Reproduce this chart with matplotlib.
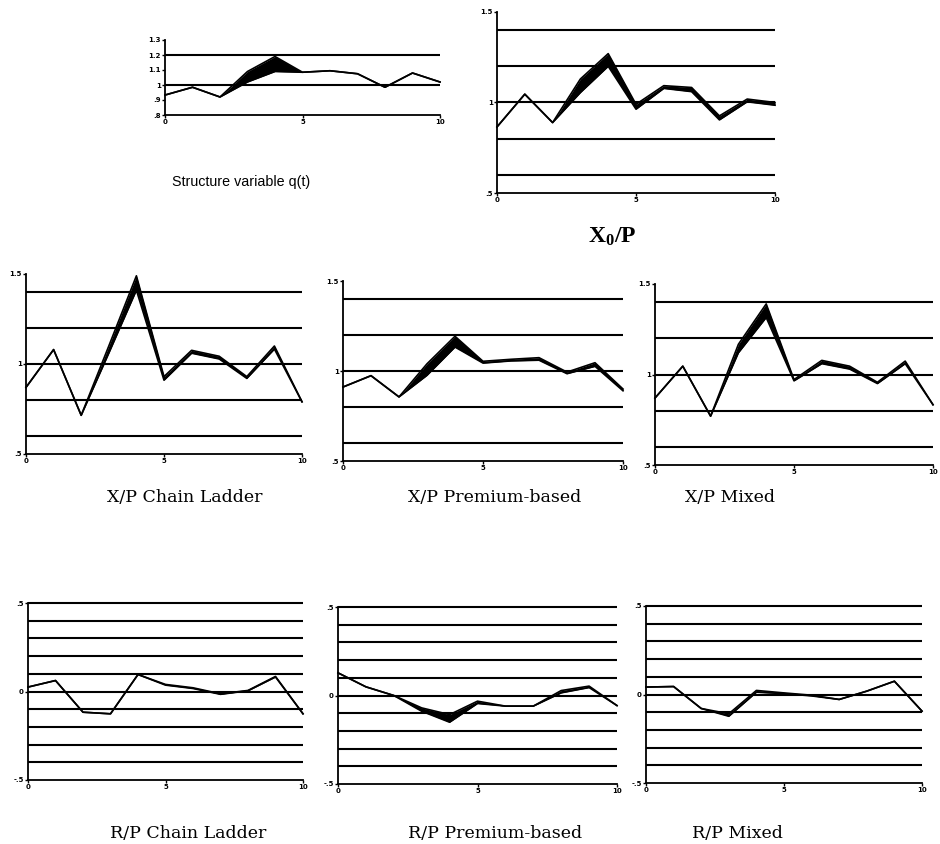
import numpy as np
import matplotlib
matplotlib.use("Agg")
import matplotlib.pyplot as plt

plt.rcParams['font.family'] = ['DejaVu Serif']
plt.rcParams['mathtext.fontset'] = 'custom'
plt.rcParams['mathtext.rm'] = 'Liberation Serif:bold'
plt.rcParams['mathtext.it'] = 'Liberation Serif:bold'

t = np.arange(11)

# structure variable q(t)
q_hi = [0.933, 0.985, 0.92, 1.09, 1.19, 1.085, 1.095, 1.075, 0.985, 1.08, 1.02]
q_lo = [0.933, 0.985, 0.92, 1.02, 1.09, 1.085, 1.095, 1.075, 0.985, 1.08, 1.02]

# X_0/P
x0_hi = [0.865, 1.046, 0.889, 1.13, 1.27, 0.99, 1.093, 1.083, 0.926, 1.019, 1.0]
x0_lo = [0.865, 1.046, 0.889, 1.055, 1.20, 0.963, 1.078, 1.06, 0.904, 1.004, 0.985]

# X/P Chain Ladder
xcl_hi = [0.87, 1.08, 0.715, 1.10, 1.49, 0.93, 1.076, 1.043, 0.93, 1.10, 0.79]
xcl_lo = [0.87, 1.08, 0.715, 1.06, 1.41, 0.91, 1.06, 1.028, 0.92, 1.083, 0.79]

# X/P Premium-based
xpb_hi = [0.911, 0.974, 0.856, 1.04, 1.193, 1.054, 1.065, 1.074, 0.994, 1.046, 0.90]
xpb_lo = [0.911, 0.974, 0.856, 0.976, 1.133, 1.044, 1.056, 1.06, 0.985, 1.026, 0.89]

# X/P Mixed
xmx_hi = [0.87, 1.046, 0.77, 1.167, 1.39, 0.972, 1.078, 1.046, 0.957, 1.074, 0.833]
xmx_lo = [0.87, 1.046, 0.77, 1.12, 1.315, 0.965, 1.06, 1.03, 0.95, 1.06, 0.833]

# R/P Chain Ladder
rcl_hi = [0.025, 0.062, -0.117, -0.126, 0.096, 0.04, 0.021, -0.013, 0.006, 0.085, -0.126]
rcl_lo = [0.025, 0.062, -0.117, -0.126, 0.096, 0.036, 0.017, -0.016, 0.004, 0.082, -0.126]

# R/P Premium-based
rpb_hi = [0.128, 0.049, 0.0, -0.07, -0.108, -0.032, -0.06, -0.06, 0.028, 0.053, -0.057]
rpb_lo = [0.128, 0.049, 0.0, -0.089, -0.151, -0.045, -0.06, -0.06, 0.015, 0.045, -0.057]

# R/P Mixed
rmx_hi = [0.042, 0.045, -0.079, -0.109, 0.023, 0.009, -0.004, -0.028, 0.019, 0.075, -0.094]
rmx_lo = [0.042, 0.045, -0.079, -0.123, 0.013, 0.005, -0.008, -0.028, 0.019, 0.075, -0.094]

W, H = 940, 844
fig = plt.figure(figsize=(W / 100, H / 100), dpi=100)


def panel(x0, y0, x1, y1, hi, lo, ylim, grid, yticks, ylabels, title, tx, ty):
    ax = fig.add_axes([x0 / W, 1 - y1 / H, (x1 - x0) / W, (y1 - y0) / H])
    ax.set_xlim(0, 10)
    ax.set_ylim(*ylim)
    ax.hlines(grid, 0, 10, color='black', lw=1.5, zorder=1, clip_on=False)
    ax.fill_between(t, lo, hi, color='black', lw=0, zorder=2)
    ax.plot(t, hi, color='black', lw=1.2, zorder=3, clip_on=False)
    ax.plot(t, lo, color='black', lw=1.2, zorder=3, clip_on=False)
    for s in ['top', 'right']:
        ax.spines[s].set_visible(False)
    for s in ['left', 'bottom']:
        ax.spines[s].set_linewidth(1.3)
    ax.set_xticks([0, 5, 10])
    ax.set_xticklabels(['0', '5', '10'])
    ax.set_yticks(yticks)
    ax.set_yticklabels(ylabels)
    ax.tick_params(axis='both', labelsize=5, length=2, width=1, pad=1)
    for lab in ax.get_xticklabels() + ax.get_yticklabels():
        lab.set_fontweight('bold')
        lab.set_family('DejaVu Sans')
    if title:
        fig.text(tx / W, 1 - ty / H, title, ha='center', va='center', fontsize=12.5)
    return ax


xgrid = [0.6, 0.8, 1.0, 1.2, 1.4]
rgrid = [0.5, 0.4, 0.3, 0.2, 0.1, 0.0, -0.1, -0.2, -0.3, -0.4]

panel(165, 40, 440, 115, q_hi, q_lo, (0.8, 1.3), [1.0, 1.2],
      [0.8, 0.9, 1.0, 1.1, 1.2, 1.3], ['.8', '.9', '1', '1.1', '1.2', '1.3'],
      '', 240, 182)
fig.text(241 / W, 1 - 182 / H, 'Structure variable q(t)', ha='center', va='center',
         fontsize=10.3, family='Liberation Sans')

panel(497, 12, 775, 193, x0_hi, x0_lo, (0.5, 1.5), xgrid,
      [0.5, 1.0, 1.5], ['.5', '1', '1.5'], '', 612, 237)
fig.text(612 / W, 1 - 237 / H, r'X$_0$/P', ha='center', va='center',
         fontsize=17, fontweight='bold', family='Liberation Serif')

panel(26, 274, 302, 454, xcl_hi, xcl_lo, (0.5, 1.5), xgrid,
      [0.5, 1.0, 1.5], ['.5', '1', '1.5'], 'X/P Chain Ladder', 185, 497)
panel(343, 281, 623, 461, xpb_hi, xpb_lo, (0.5, 1.5), xgrid,
      [0.5, 1.0, 1.5], ['.5', '1', '1.5'], 'X/P Premium-based', 495, 497)
panel(655, 284, 933, 465, xmx_hi, xmx_lo, (0.5, 1.5), xgrid,
      [0.5, 1.0, 1.5], ['.5', '1', '1.5'], 'X/P Mixed', 730, 497)

panel(28, 603, 303, 780, rcl_hi, rcl_lo, (-0.5, 0.5), rgrid,
      [-0.5, 0.0, 0.5], ['-.5', '0', '.5'], 'R/P Chain Ladder', 188, 833)
panel(338, 607, 617, 784, rpb_hi, rpb_lo, (-0.5, 0.5), rgrid,
      [-0.5, 0.0, 0.5], ['-.5', '0', '.5'], 'R/P Premium-based', 495, 833)
panel(646, 606, 922, 783, rmx_hi, rmx_lo, (-0.5, 0.5), rgrid,
      [-0.5, 0.0, 0.5], ['-.5', '0', '.5'], 'R/P Mixed', 737, 833)

fig.savefig('out.png', dpi=100)
